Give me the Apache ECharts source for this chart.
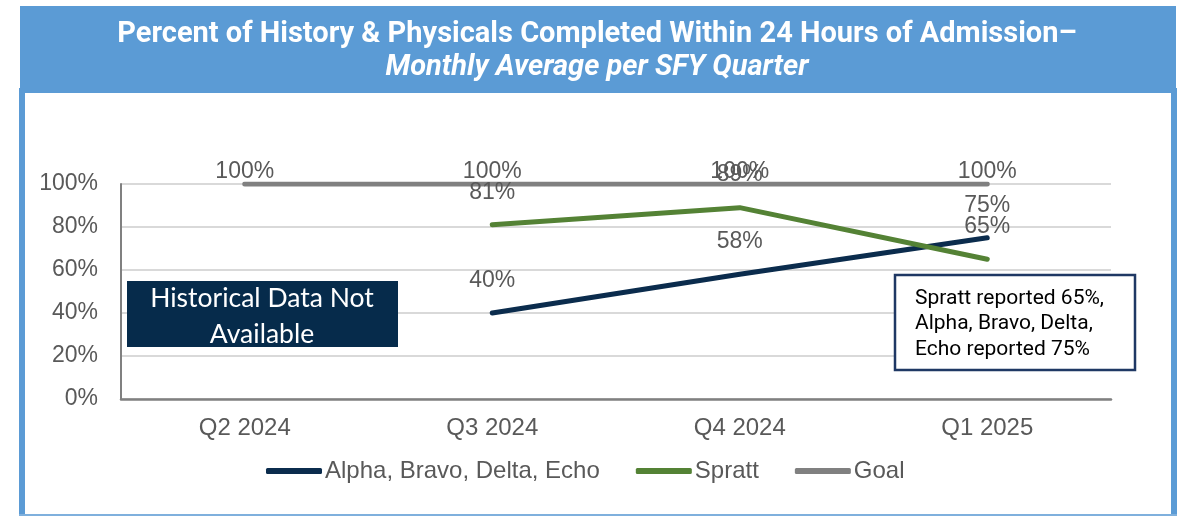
<!DOCTYPE html>
<html>
<head>
<meta charset="utf-8">
<script src="https://cdn.jsdelivr.net/npm/echarts@6/dist/echarts.min.js"></script>
<style>
html,body{margin:0;padding:0;background:#fff;}
#chart{width:1182px;height:516px;}
</style>
</head>
<body>
<div id="chart"></div>
<script>
const categories = ['Q2 2024', 'Q3 2024', 'Q4 2024', 'Q1 2025'];
const alphaValues = [null, 40, 58, 75];
const sprattValues = [null, 81, 89, 65];
const goalValues = [100, 100, 100, 100];
const yTicks = [0, 20, 40, 60, 80, 100];
const seriesNames = ['Alpha, Bravo, Delta, Echo', 'Spratt', 'Goal'];
const titleLine1 = 'Percent of History & Physicals Completed Within 24 Hours of Admission\u2013';
const titleLine2 = 'Monthly Average per SFY Quarter';
const noteText = ['Spratt reported 65%,', 'Alpha, Bravo, Delta,', 'Echo reported 75%'];
const historicalText = ['Historical Data Not', 'Available'];

const chart = echarts.init(document.getElementById('chart'));
const labelColor = '#595959';
const baseFont = 'Liberation Sans, Arial, sans-serif';

function lineSeries(name, data, color, dist) {
  return {
    name: name,
    type: 'line',
    data: data,
    symbol: 'circle',
    symbolSize: 0,
    showSymbol: true,
    connectNulls: false,
    lineStyle: { color: color, width: 5, cap: 'round' },
    itemStyle: { color: color },
    label: {
      show: true,
      position: 'top',
      distance: dist,
      formatter: '{c}%',
      color: labelColor,
      fontFamily: baseFont,
      fontSize: 23
    },
    emphasis: { disabled: true },
    animation: false
  };
}

chart.setOption({
  animation: false,
  title: [
    {
      text: titleLine1, left: 597, top: 20, textAlign: 'center', padding: 0,
      textStyle: { color: '#ffffff', fontFamily: 'Roboto', fontWeight: 'bold', fontSize: 29 }
    },
    {
      text: titleLine2, left: 597, top: 53, textAlign: 'center', padding: 0,
      textStyle: { color: '#ffffff', fontFamily: 'Roboto', fontWeight: 'bold', fontStyle: 'italic', fontSize: 29 }
    }
  ],
  graphic: [
    { type: 'rect', z: -10, shape: { x: 20, y: 6, width: 1156, height: 87 }, style: { fill: '#5B9BD5' } },
    { type: 'rect', z: -10, shape: { x: 19, y: 88, width: 6, height: 428 }, style: { fill: '#5B9BD5' } },
    { type: 'rect', z: -10, shape: { x: 1171, y: 88, width: 6, height: 428 }, style: { fill: '#5B9BD5' } },
    { type: 'rect', z: -10, shape: { x: 19, y: 514, width: 1158, height: 2 }, style: { fill: '#7FB0DD' } },
    { type: 'rect', z: 50, shape: { x: 127, y: 281, width: 271, height: 66 }, style: { fill: '#062B4B' } },
    {
      type: 'text', z: 51, x: 262, y: 316,
      style: {
        text: historicalText.join('\n'), fill: '#ffffff', fontFamily: 'Lato', fontSize: 26.5,
        lineHeight: 36, align: 'center', verticalAlign: 'middle'
      }
    },
    { type: 'rect', z: 50, shape: { x: 895, y: 275, width: 240, height: 95 }, style: { fill: '#ffffff', stroke: '#1F3864', lineWidth: 2.5 } },
    {
      type: 'text', z: 51, x: 915, y: 324,
      style: {
        text: noteText.join('\n'), fill: '#000000', fontFamily: 'Roboto', fontSize: 21,
        lineHeight: 25.5, align: 'left', verticalAlign: 'middle'
      }
    }
  ],
  legend: {
    data: seriesNames,
    left: 266,
    top: 459,
    icon: 'roundRect',
    itemWidth: 56,
    itemHeight: 6,
    itemGap: 36,
    padding: 0,
    textStyle: { color: labelColor, fontFamily: baseFont, fontSize: 24, padding: [0, 0, 0, -2] }
  },
  grid: { left: 121, right: 71, top: 184, bottom: 117, containLabel: false, outerBoundsMode: 'none' },
  xAxis: {
    type: 'category',
    data: categories,
    boundaryGap: true,
    axisLine: { show: true, lineStyle: { color: '#808080', width: 2.5 } },
    axisTick: { show: false },
    axisLabel: { color: labelColor, fontFamily: baseFont, fontSize: 24, margin: 17 },
    splitLine: { show: false }
  },
  yAxis: {
    type: 'value',
    min: yTicks[0],
    max: yTicks[yTicks.length - 1],
    interval: yTicks[1] - yTicks[0],
    axisLine: { show: true, lineStyle: { color: '#808080', width: 2 } },
    axisTick: { show: false },
    axisLabel: { color: labelColor, fontFamily: baseFont, fontSize: 23, margin: 23, formatter: '{value}%' },
    splitLine: { show: true, lineStyle: { color: '#D9D9D9', width: 2 } }
  },
  series: [
    lineSeries(seriesNames[0], alphaValues, '#0B2C4D', 21),
    lineSeries(seriesNames[1], sprattValues, '#548235', 21),
    lineSeries(seriesNames[2], goalValues, '#808080', 1)
  ]
});
</script>
</body>
</html>
